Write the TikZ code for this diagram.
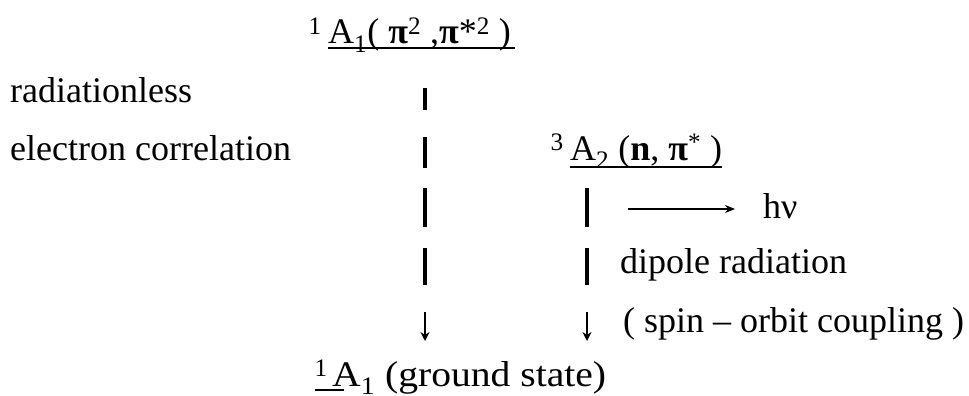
\documentclass[tikz,border=0pt]{standalone}
\usepackage{fontspec}
\setmainfont{Liberation Serif}
\usetikzlibrary{arrows.meta}
\begin{document}
\begin{tikzpicture}[x=1pt,y=-1pt,
  txt/.style={inner sep=0pt,anchor=base west,font=\fontsize{36}{40}\selectfont},
  bar/.style={line width=3.2pt},
  down/.style={line width=1.6pt,-{Stealth[length=9pt,width=9pt]}},
  harrow/.style={line width=1.2pt,-{Stealth[length=10pt,width=8pt]}},
  uline/.style={line width=1.3pt}]
\useasboundingbox (0,0) rectangle (969,396);
% left labels
\node[txt] (rad) at (10,102) {radiationless};
\node[txt] (ec) at (10,160) {electron correlation};
% top state
\node[txt] (top) at (328,44) {A\textsubscript{1}( \textbf{π}\textsuperscript{2} ,\textbf{π}*\textsuperscript{2} )};
\node[txt,anchor=base east] (topsup) at ([xshift=-6pt]top.base west) {\textsuperscript{1}};
\draw[uline] ([yshift=-4pt]top.base west) -- ([yshift=-4pt,xshift=4pt]top.base east);
% triplet state
\node[txt] (mid) at (570,160) {A\textsubscript{2} (\textbf{n}, \textbf{π}\textsuperscript{*} )};
\node[txt,anchor=base east] (midsup) at ([xshift=-6pt]mid.base west) {\textsuperscript{3}};
\draw[uline] ([yshift=-7pt]mid.base west) -- ([yshift=-7pt]mid.base east);
% ground state
\node[txt,xscale=1.1] (gs) at (332,386) {A\textsubscript{1} (ground state)};
\node[txt,anchor=base east] (gssup) at ([xshift=-4pt]gs.base west) {\textsuperscript{1}};
\draw[uline] ([yshift=-4pt]gssup.base west) -- ([yshift=-4pt,xshift=12pt]gs.base west);
% right labels
\node[txt] (hv) at (763,218) {hν};
\node[txt] (dip) at (620,273) {dipole radiation};
\node[txt] (soc) at (623,332) {( spin – orbit coupling )};
% left column connectors
\coordinate (l1a) at (425,88);  \coordinate (l1b) at (425,110);
\coordinate (l2a) at (425,137); \coordinate (l2b) at (425,168);
\coordinate (l3a) at (425,188); \coordinate (l3b) at (425,227);
\coordinate (l4a) at (425,248); \coordinate (l4b) at (425,285);
\coordinate (l5a) at (425,312); \coordinate (l5b) at (425,341);
\draw[bar] (l1a) -- (l1b);
\draw[bar] (l2a) -- (l2b);
\draw[bar] (l3a) -- (l3b);
\draw[bar] (l4a) -- (l4b);
\draw[down] (l5a) -- (l5b);
% right column connectors
\coordinate (r3a) at (587,188); \coordinate (r3b) at (587,227);
\coordinate (r4a) at (587,248); \coordinate (r4b) at (587,285);
\coordinate (r5a) at (587,312); \coordinate (r5b) at (587,341);
\draw[bar] (r3a) -- (r3b);
\draw[bar] (r4a) -- (r4b);
\draw[down] (r5a) -- (r5b);
% emission arrow
\coordinate (hs) at (628,209); \coordinate (he) at (735,209);
\draw[harrow] (hs) -- (he);
\end{tikzpicture}
\end{document}
